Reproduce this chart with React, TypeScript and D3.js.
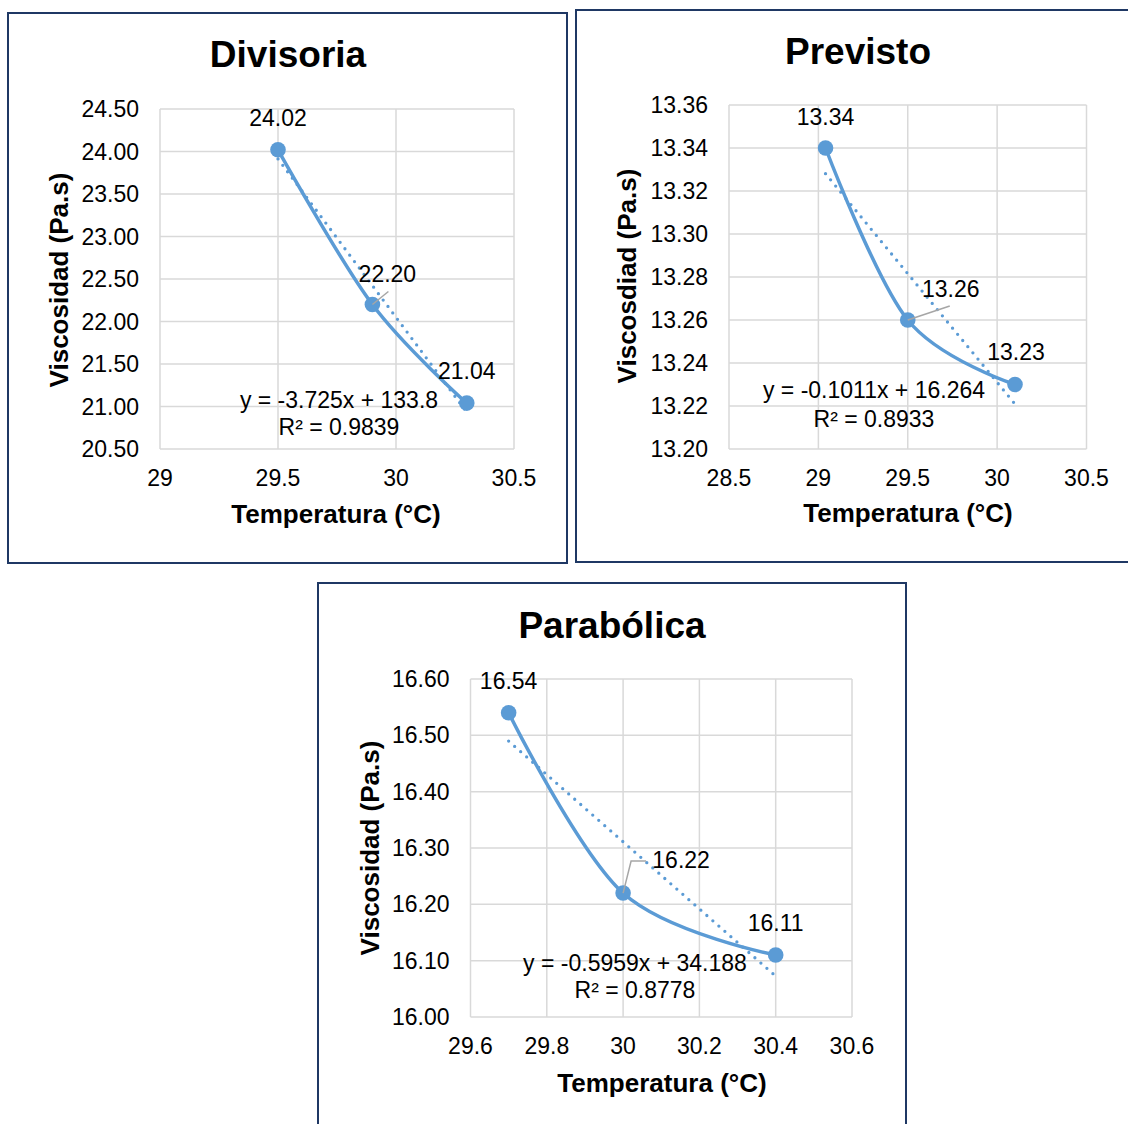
import React from "react";
import * as d3 from "d3";

// ---------- DATA ----------
const divisoriaTemp = [29.5, 29.9, 30.3];
const divisoriaVisc = [24.02, 22.2, 21.04];
const divisoriaXTicks = [29, 29.5, 30, 30.5];
const divisoriaYTicks = [20.5, 21, 21.5, 22, 22.5, 23, 23.5, 24, 24.5];
const divisoriaTrend = { slope: -3.725, intercept: 133.8, r2: "0.9839", eq: "y = -3.725x + 133.8" };

const previstoTemp = [29.04, 29.5, 30.1];
const previstoVisc = [13.34, 13.26, 13.23];
const previstoXTicks = [28.5, 29, 29.5, 30, 30.5];
const previstoYTicks = [13.2, 13.22, 13.24, 13.26, 13.28, 13.3, 13.32, 13.34, 13.36];
const previstoTrend = { slope: -0.1011, intercept: 16.264, r2: "0.8933", eq: "y = -0.1011x + 16.264" };

const parabolicaTemp = [29.7, 30.0, 30.4];
const parabolicaVisc = [16.54, 16.22, 16.11];
const parabolicaXTicks = [29.6, 29.8, 30, 30.2, 30.4, 30.6];
const parabolicaYTicks = [16.0, 16.1, 16.2, 16.3, 16.4, 16.5, 16.6];
const parabolicaTrend = { slope: -0.5959, intercept: 34.188, r2: "0.8778", eq: "y = -0.5959x + 34.188" };

const titles = ["Divisoria", "Previsto", "Parabólica"];
const yTitles = ["Viscosidad (Pa.s)", "Viscosdiad (Pa.s)", "Viscosidad (Pa.s)"];
const xTitle = "Temperatura (°C)";

// ---------- STYLE ----------
const FONT = "'Liberation Sans', Arial, Helvetica, sans-serif";
const BLUE = "#5B9BD5";
const GRID = "#D9D9D9";
const BORDER = "#1F3864";
const FS = 23;

type Layout = {
  box: [number, number, number, number];
  plot: { left: number; right: number; top: number; bottom: number };
  title: [number, number];
  xTitle: [number, number];
  yTitle: [number, number];
  eq: [number, number];
  r2: [number, number];
  labelOffsets: [number, number][];
  leaderIdx: number;
  leaderPts: [number, number][];
};

const layouts: Layout[] = [
  {
    box: [8, 13, 567, 563],
    plot: { left: 160, right: 514, top: 109, bottom: 449 },
    title: [288, 67],
    xTitle: [336, 523],
    yTitle: [68, 280],
    eq: [339, 408],
    r2: [339, 435],
    labelOffsets: [[0, -24], [15, -23], [0, -24]],
    leaderIdx: 1,
    leaderPts: [[0, 0], [16, -13]],
  },
  {
    box: [576, 10, 1140, 562],
    plot: { left: 729, right: 1086.5, top: 105, bottom: 449 },
    title: [858, 64],
    xTitle: [908, 522],
    yTitle: [636, 276],
    eq: [874, 398],
    r2: [874, 427],
    labelOffsets: [[0, -23], [43, -23], [1, -25]],
    leaderIdx: 1,
    leaderPts: [[0, 0], [42, -14]],
  },
  {
    box: [318, 583, 906, 1140],
    plot: { left: 470.5, right: 852, top: 679, bottom: 1017 },
    title: [612, 638],
    xTitle: [662, 1092],
    yTitle: [379, 848],
    eq: [635, 971],
    r2: [635, 998],
    labelOffsets: [[0, -24], [58, -25], [0, -24]],
    leaderIdx: 1,
    leaderPts: [[0, 0], [8, -32], [23, -32]],
  },
];

type Series = {
  temp: number[];
  visc: number[];
  xTicks: number[];
  yTicks: number[];
  trend: { slope: number; intercept: number; r2: string; eq: string };
};

const series: Series[] = [
  { temp: divisoriaTemp, visc: divisoriaVisc, xTicks: divisoriaXTicks, yTicks: divisoriaYTicks, trend: divisoriaTrend },
  { temp: previstoTemp, visc: previstoVisc, xTicks: previstoXTicks, yTicks: previstoYTicks, trend: previstoTrend },
  { temp: parabolicaTemp, visc: parabolicaVisc, xTicks: parabolicaXTicks, yTicks: parabolicaYTicks, trend: parabolicaTrend },
];

function Panel({ s, L, title, yTitle }: { s: Series; L: Layout; title: string; yTitle: string }) {
  const x = d3
    .scaleLinear()
    .domain([s.xTicks[0], s.xTicks[s.xTicks.length - 1]])
    .range([L.plot.left, L.plot.right]);
  const y = d3
    .scaleLinear()
    .domain([s.yTicks[0], s.yTicks[s.yTicks.length - 1]])
    .range([L.plot.bottom, L.plot.top]);

  const pts: [number, number][] = s.temp.map((t, i) => [x(t), y(s.visc[i])]);
  const smooth = d3.line().curve(d3.curveCardinal.tension(0))(pts) || "";

  const x0 = d3.min(s.temp) as number;
  const x1 = d3.max(s.temp) as number;
  const trendPath =
    d3.line()([
      [x(x0), y(s.trend.slope * x0 + s.trend.intercept)],
      [x(x1), y(s.trend.slope * x1 + s.trend.intercept)],
    ]) || "";

  const [bx0, by0, bx1, by1] = L.box;
  const lp = pts[L.leaderIdx];
  const leaderPath =
    d3.line()(L.leaderPts.map(([dx, dy]) => [lp[0] + dx, lp[1] + dy] as [number, number])) || "";

  return (
    <g>
      <rect x={bx0} y={by0} width={bx1 - bx0} height={by1 - by0} fill="#fff" stroke={BORDER} strokeWidth={2} />
      {s.yTicks.map((t) => (
        <line key={"gy" + t} x1={L.plot.left} x2={L.plot.right} y1={y(t)} y2={y(t)} stroke={GRID} strokeWidth={1.5} />
      ))}
      {s.xTicks.map((t) => (
        <line key={"gx" + t} x1={x(t)} x2={x(t)} y1={L.plot.top} y2={L.plot.bottom} stroke={GRID} strokeWidth={1.5} />
      ))}
      {s.yTicks.map((t) => (
        <text key={"ty" + t} x={L.plot.left - 21} y={y(t) + 8} textAnchor="end" fontSize={FS} fontFamily={FONT} fill="#000">
          {t.toFixed(2)}
        </text>
      ))}
      {s.xTicks.map((t) => (
        <text key={"tx" + t} x={x(t)} y={L.plot.bottom + 37} textAnchor="middle" fontSize={FS} fontFamily={FONT} fill="#000">
          {String(t)}
        </text>
      ))}
      <path d={trendPath} fill="none" stroke={BLUE} strokeWidth={3.3} strokeDasharray="0 8" strokeLinecap="round" />
      <path d={smooth} fill="none" stroke={BLUE} strokeWidth={3.5} strokeLinecap="round" />
      {pts.map((p, i) => (
        <circle key={"c" + i} cx={p[0]} cy={p[1]} r={7.8} fill={BLUE} />
      ))}
      <path d={leaderPath} fill="none" stroke="#A6A6A6" strokeWidth={1.5} />
      {pts.map((p, i) => (
        <text
          key={"l" + i}
          x={p[0] + L.labelOffsets[i][0]}
          y={p[1] + L.labelOffsets[i][1]}
          textAnchor="middle"
          fontSize={FS}
          fontFamily={FONT}
          fill="#000"
        >
          {s.visc[i].toFixed(2)}
        </text>
      ))}
      <text x={L.eq[0]} y={L.eq[1]} textAnchor="middle" fontSize={FS} fontFamily={FONT} fill="#000">
        {s.trend.eq}
      </text>
      <text x={L.r2[0]} y={L.r2[1]} textAnchor="middle" fontSize={FS} fontFamily={FONT} fill="#000">
        {"R² = " + s.trend.r2}
      </text>
      <text x={L.title[0]} y={L.title[1]} textAnchor="middle" fontSize={37} fontWeight="bold" fontFamily={FONT} fill="#000">
        {title}
      </text>
      <text x={L.xTitle[0]} y={L.xTitle[1]} textAnchor="middle" fontSize={26} fontWeight="bold" fontFamily={FONT} fill="#000">
        {xTitle}
      </text>
      <text
        transform={`translate(${L.yTitle[0]},${L.yTitle[1]}) rotate(-90)`}
        textAnchor="middle"
        fontSize={26}
        fontWeight="bold"
        fontFamily={FONT}
        fill="#000"
      >
        {yTitle}
      </text>
    </g>
  );
}

export default function App() {
  return (
    <svg
      width={1128}
      height={1124}
      viewBox="0 0 1128 1124"
      style={{ position: "absolute", left: 0, top: 0, background: "#fff" }}
    >
      <rect x={0} y={0} width={1128} height={1124} fill="#fff" />
      {series.map((s, i) => (
        <Panel key={i} s={s} L={layouts[i]} title={titles[i]} yTitle={yTitles[i]} />
      ))}
    </svg>
  );
}
